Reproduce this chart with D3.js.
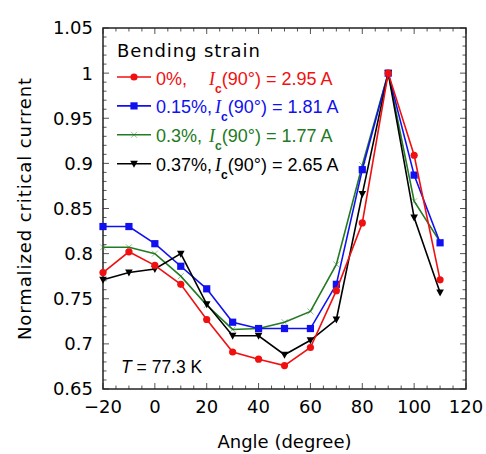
<!DOCTYPE html>
<html>
<head>
<meta charset="utf-8">
<script src="https://cdn.jsdelivr.net/npm/d3@7"></script>
<style>
  body { margin: 0; background: #fff; }
  svg { font-family: "DejaVu Sans", Arial, sans-serif; }
</style>
</head>
<body>
<div id="chart"></div>
<script>
const width = 486, height = 454;
const margin = { top: 28, right: 20, bottom: 65, left: 103 };

// angles (degree)
const angles = [-20, -10, 0, 10, 20, 30, 40, 50, 60, 70, 80, 90, 100, 110];

// normalized critical current per bending strain
const strain0 = [0.779, 0.802, 0.787, 0.766, 0.727, 0.691, 0.683, 0.676, 0.696, 0.759, 0.834, 1.0, 0.909, 0.771];
const strain015 = [0.830, 0.830, 0.811, 0.786, 0.761, 0.724, 0.717, 0.717, 0.717, 0.766, 0.893, 1.0, 0.887, 0.812];
const strain03 = [0.807, 0.807, 0.800, 0.775, 0.743, 0.716, 0.717, 0.724, 0.736, 0.788, 0.898, 1.0, 0.858, 0.813];
const strain037 = [0.771, 0.779, 0.783, 0.800, 0.744, 0.709, 0.709, 0.688, 0.704, 0.727, 0.866, 1.0, 0.840, 0.757];

const seriesNames = ["0%,", "0.15%,", "0.3%,", "0.37%,"];
const icValues = ["2.95 A", "1.81 A", "1.77 A", "2.65 A"];
const colors = ["#f01010", "#1010f0", "#237a23", "#000000"];
const markers = ["circle", "square", "cross", "triangle"];

const xTicks = [-20, 0, 20, 40, 60, 80, 100, 120];
const yTicks = [0.65, 0.7, 0.75, 0.8, 0.85, 0.9, 0.95, 1, 1.05];

const series = [strain0, strain015, strain03, strain037].map((vals, i) => ({
  name: seriesNames[i],
  ic: icValues[i],
  color: colors[i],
  marker: markers[i],
  values: vals.map((v, j) => ({ x: angles[j], y: v }))
}));

const svg = d3.select("#chart").append("svg")
  .attr("width", width)
  .attr("height", height);

const x = d3.scaleLinear().domain([-20, 120]).range([margin.left, width - margin.right]);
const y = d3.scaleLinear().domain([0.65, 1.05]).range([height - margin.bottom, margin.top]);

const x0 = x.range()[0], x1 = x.range()[1];
const y0 = y.range()[0], y1 = y.range()[1];

// ticks, inward on all four sides
const tickG = svg.append("g").attr("stroke", "#555").attr("stroke-width", 1);
d3.range(-20, 120.1, 5).forEach(v => {
  const major = v % 20 === 0;
  const len = major ? 6 : 3.5;
  tickG.append("line").attr("x1", x(v)).attr("x2", x(v)).attr("y1", y0).attr("y2", y0 - len);
  tickG.append("line").attr("x1", x(v)).attr("x2", x(v)).attr("y1", y1).attr("y2", y1 + len);
});
d3.range(65, 105.1, 1).forEach(k => {
  const v = k / 100;
  const major = k % 5 === 0;
  const len = major ? 6 : 3.5;
  tickG.append("line").attr("y1", y(v)).attr("y2", y(v)).attr("x1", x0).attr("x2", x0 + len);
  tickG.append("line").attr("y1", y(v)).attr("y2", y(v)).attr("x1", x1).attr("x2", x1 - len);
});

// frame
svg.append("rect")
  .attr("x", x0).attr("y", y1)
  .attr("width", x1 - x0).attr("height", y0 - y1)
  .attr("fill", "none").attr("stroke", "#222").attr("stroke-width", 1.5);

// tick labels
svg.append("g").selectAll("text")
  .data(xTicks)
  .join("text")
  .attr("x", d => x(d))
  .attr("y", y0 + 24)
  .attr("text-anchor", "middle")
  .attr("font-size", 18)
  .text(d => d < 0 ? "\u2212" + Math.abs(d) : d);

svg.append("g").selectAll("text")
  .data(yTicks)
  .join("text")
  .attr("x", x0 - 10)
  .attr("y", d => y(d))
  .attr("dy", "0.36em")
  .attr("text-anchor", "end")
  .attr("font-size", 18)
  .text(d => d3.format("")(d));

// axis titles
svg.append("text")
  .attr("x", (x0 + x1) / 2)
  .attr("y", 448)
  .attr("text-anchor", "middle")
  .attr("font-size", 18)
  .text("Angle (degree)");

svg.append("text")
  .attr("transform", `translate(31,${(y0 + y1) / 2}) rotate(-90)`)
  .attr("text-anchor", "middle")
  .attr("font-size", 18)
  .attr("letter-spacing", 0.9)
  .text("Normalized critical current");

// lines
const line = d3.line().x(d => x(d.x)).y(d => y(d.y));

function drawMarker(g, type, color, cx, cy) {
  if (type === "circle") {
    g.append("circle").attr("cx", cx).attr("cy", cy).attr("r", 3.6).attr("fill", color);
  } else if (type === "square") {
    g.append("rect").attr("x", cx - 3.6).attr("y", cy - 3.6).attr("width", 7.2).attr("height", 7.2).attr("fill", color);
  } else if (type === "triangle") {
    g.append("path").attr("d", `M${cx - 3.8},${cy - 3}L${cx + 3.8},${cy - 3}L${cx},${cy + 4}Z`).attr("fill", color);
  } else {
    g.append("path").attr("d", `M${cx - 3},${cy - 3}L${cx + 3},${cy + 3}M${cx - 3},${cy + 3}L${cx + 3},${cy - 3}`)
      .attr("stroke", color).attr("stroke-width", 0.8).attr("opacity", 0.6);
  }
}

// draw order: green, blue, black, red
[2, 1, 3, 0].forEach(i => {
  const s = series[i];
  const g = svg.append("g");
  g.append("path")
    .datum(s.values)
    .attr("fill", "none")
    .attr("stroke", s.color)
    .attr("stroke-width", 1.6)
    .attr("d", line);
  s.values.forEach(d => drawMarker(g, s.marker, s.color, x(d.x), y(d.y)));
});

// legend
const legend = svg.append("g");
legend.append("text")
  .attr("x", 117).attr("y", 57)
  .attr("font-size", 18)
  .attr("letter-spacing", 0.9)
  .text("Bending strain");

series.forEach((s, i) => {
  const ly = 77 + i * 28.9;
  const row = legend.append("g");
  row.append("line")
    .attr("x1", 117).attr("x2", 151)
    .attr("y1", ly).attr("y2", ly)
    .attr("stroke", s.color).attr("stroke-width", 1.6);
  drawMarker(row, s.marker, s.color, 134, ly);
  const t = row.append("text")
    .attr("x", 156).attr("y", ly + 7.5)
    .attr("font-family", "Liberation Sans, Arial, sans-serif")
    .attr("font-size", 18)
    .attr("fill", s.color)
    .text(s.name);
  const tw = t.node().getComputedTextLength();
  const icX = Math.max(156 + tw + 3, 209);
  const ic = row.append("text")
    .attr("x", icX).attr("y", ly + 7.5)
    .attr("font-family", "Liberation Sans, Arial, sans-serif")
    .attr("font-size", 18)
    .attr("fill", s.color);
  ic.append("tspan").attr("font-style", "italic").attr("font-family", "Liberation Serif, serif").text("I");
  ic.append("tspan").attr("font-size", 12).attr("font-weight", "bold").attr("dy", 8).text("c");
  ic.append("tspan").attr("dy", -8).text("(90\u00B0) = " + s.ic);
});

// temperature note
const tNote = svg.append("text")
  .attr("x", 121).attr("y", 373)
  .attr("font-family", "Liberation Sans, Arial, sans-serif")
  .attr("font-size", 17.5);
tNote.append("tspan").attr("font-style", "italic").text("T");
tNote.append("tspan").text(" = 77.3 K");
</script>
</body>
</html>
